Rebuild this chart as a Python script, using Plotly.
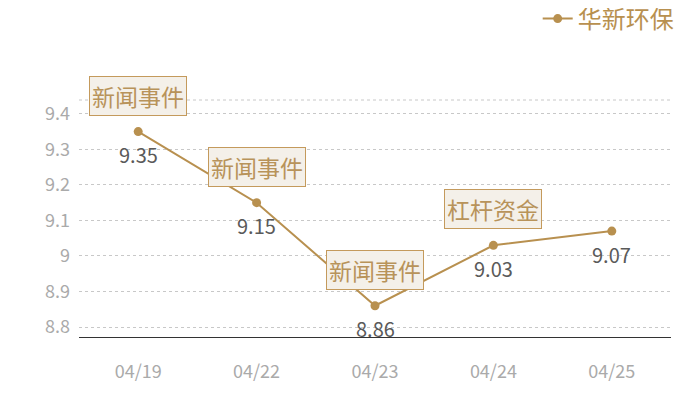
import plotly.graph_objects as go

dates = ["04/19", "04/22", "04/23", "04/24", "04/25"]
prices = [9.35, 9.15, 8.86, 9.03, 9.07]
price_labels = ["9.35", "9.15", "8.86", "9.03", "9.07"]
event_dates = ["04/19", "04/22", "04/23", "04/24"]
event_values = [9.35, 9.15, 8.86, 9.03]
event_texts = ["新闻事件", "新闻事件", "新闻事件", "杠杆资金"]
series_name = "华新环保"
y_ticks = [8.8, 8.9, 9.0, 9.1, 9.2, 9.3, 9.4]
y_tick_text = ["8.8", "8.9", "9", "9.1", "9.2", "9.3", "9.4"]

GOLD = "#B8904F"
FONT = "Noto Sans CJK SC"

fig = go.Figure()
fig.add_trace(go.Scatter(
    x=dates, y=prices, name=series_name,
    mode="lines+markers",
    line=dict(color=GOLD, width=2),
    marker=dict(color=GOLD, size=9),
))

for d, v, t in zip(dates, prices, price_labels):
    fig.add_annotation(
        x=d, y=v, text=t, showarrow=False,
        yanchor="middle", yshift=-23,
        font=dict(family=FONT, size=20, color="#5a5a5a"),
    )

for d, v, t in zip(event_dates, event_values, event_texts):
    fig.add_annotation(
        x=d, y=v, text=t, showarrow=False,
        yanchor="bottom", yshift=16,
        font=dict(family=FONT, size=23, color="#B8935A"),
        bgcolor="#F4F0E9", bordercolor="#C49A5C", borderwidth=1, borderpad=2,
    )

fig.update_layout(
    width=700, height=400,
    margin=dict(l=71, r=37, t=92, b=71),
    plot_bgcolor="white", paper_bgcolor="white",
    font=dict(family=FONT),
    showlegend=True,
    legend=dict(
        x=1.013, xref="paper", y=0.9725, yref="container", xanchor="right", yanchor="middle",
        font=dict(family=FONT, size=24, color=GOLD),
        itemwidth=30, bgcolor="rgba(0,0,0,0)",
    ),
    xaxis=dict(
        type="category", range=[-0.5, 4.5],
        showgrid=False, showline=True, linecolor="#333", linewidth=1,
        ticks="", ticklabelstandoff=18,
        tickfont=dict(family=FONT, size=18, color="#aaaaaa"),
        zeroline=False,
    ),
    yaxis=dict(
        range=[8.772, 9.439],
        tickvals=y_ticks, ticktext=y_tick_text,
        showgrid=True, gridcolor="#c8c8c8", griddash="dot", gridwidth=1,
        showline=False, zeroline=False, ticks="",
        tickfont=dict(family=FONT, size=18, color="#aaaaaa"),
        ticklabelstandoff=8,
    ),
)
fig.add_shape(type="line", xref="paper", yref="paper", x0=0, x1=1, y0=1, y1=1,
              line=dict(color="#c8c8c8", width=1, dash="dot"), layer="below")

fig.write_html("out.html")
